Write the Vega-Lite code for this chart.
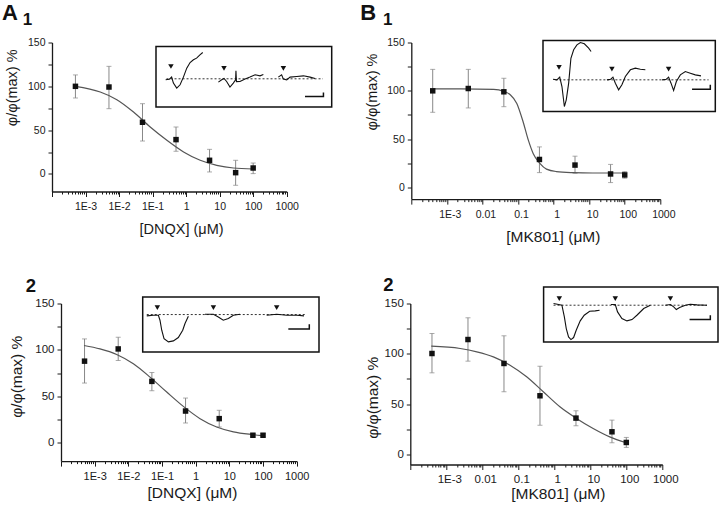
{
 "$schema": "https://vega.github.io/schema/vega-lite/v6.json",
 "padding": {"left": 2, "top": 1.5, "right": 0, "bottom": 0},
 "background": "white",
 "config": {
  "font": "Liberation Sans",
  "view": {"stroke": null},
  "axis": {"domainColor": "#1a1a1a", "domainWidth": 1.3, "tickColor": "#1a1a1a", "tickWidth": 1, "labelColor": "#1a1a1a", "titleColor": "#1a1a1a", "labelFont": "Liberation Sans", "titleFont": "Liberation Sans", "labelFontSize": 10.5, "titleFontSize": 14.5, "titleFontWeight": "normal", "grid": false},
  "text": {"font": "Liberation Sans", "fontWeight": "bold", "color": "#111", "align": "center", "baseline": "alphabetic"}
 },
 "datasets": {
  "pts": [
   {"p":"A1","c":0.0005,"m":100,"lo":86.7,"hi":113},
   {"p":"A1","c":0.005,"m":99.2,"lo":74.5,"hi":122.8},
   {"p":"A1","c":0.05,"m":59,"lo":37.6,"hi":80.2},
   {"p":"A1","c":0.5,"m":39.2,"lo":25.9,"hi":53.6},
   {"p":"A1","c":5,"m":15.6,"lo":2.3,"hi":28.1},
   {"p":"A1","c":30,"m":1.5,"lo":-12.9,"hi":15.6},
   {"p":"A1","c":100,"m":6.8,"lo":0.4,"hi":12.5},
   {"p":"B1","c":0.0004,"m":100,"lo":77.8,"hi":122.2},
   {"p":"B1","c":0.004,"m":102.4,"lo":82.3,"hi":122.2},
   {"p":"B1","c":0.04,"m":99,"lo":83.6,"hi":113},
   {"p":"B1","c":0.4,"m":29,"lo":15.4,"hi":42},
   {"p":"B1","c":4,"m":23.2,"lo":14.7,"hi":32.4},
   {"p":"B1","c":40,"m":14,"lo":5.1,"hi":23.9},
   {"p":"B1","c":100,"m":13,"lo":9.6,"hi":16.4},
   {"p":"A2","c":0.0005,"m":87.8,"lo":64.2,"hi":111.8},
   {"p":"A2","c":0.005,"m":101,"lo":88.5,"hi":113.6},
   {"p":"A2","c":0.05,"m":66,"lo":55.9,"hi":75.6},
   {"p":"A2","c":0.5,"m":34,"lo":21.1,"hi":48},
   {"p":"A2","c":5,"m":25.8,"lo":16.8,"hi":34.8},
   {"p":"A2","c":50,"m":7.9,"lo":6.1,"hi":9.7},
   {"p":"A2","c":100,"m":7.9,"lo":6.1,"hi":9.7},
   {"p":"B2","c":0.0004,"m":100.3,"lo":81.1,"hi":120.2},
   {"p":"B2","c":0.004,"m":114.2,"lo":92.7,"hi":135.8},
   {"p":"B2","c":0.04,"m":90.4,"lo":62.3,"hi":117.9},
   {"p":"B2","c":0.4,"m":58.3,"lo":29.1,"hi":87.7},
   {"p":"B2","c":4,"m":36.1,"lo":28.5,"hi":43.4},
   {"p":"B2","c":40,"m":22.5,"lo":11.6,"hi":34.1},
   {"p":"B2","c":100,"m":11.9,"lo":7,"hi":16.9}
  ],
  "fit": [
   {"p":"A1","c":0.000495,"f":100},{"p":"A1","c":0.00275,"f":93.5},{"p":"A1","c":0.0086,"f":84.8},{"p":"A1","c":0.027,"f":70.7},{"p":"A1","c":0.085,"f":53.6},{"p":"A1","c":0.267,"f":38.4},{"p":"A1","c":0.84,"f":25.1},{"p":"A1","c":2.63,"f":15.6},{"p":"A1","c":8.2,"f":9.9},{"p":"A1","c":25.8,"f":6.8},{"p":"A1","c":100,"f":5.7},
   {"p":"B1","c":0.0004,"f":102},{"p":"B1","c":0.00245,"f":102},{"p":"B1","c":0.0207,"f":101.5},{"p":"B1","c":0.0394,"f":99.5},{"p":"B1","c":0.0603,"f":96},{"p":"B1","c":0.0925,"f":87},{"p":"B1","c":0.1416,"f":67},{"p":"B1","c":0.195,"f":49},{"p":"B1","c":0.2685,"f":35},{"p":"B1","c":0.411,"f":25},{"p":"B1","c":0.631,"f":19},{"p":"B1","c":1.197,"f":16.5},{"p":"B1","c":3.47,"f":15.4},{"p":"B1","c":12.5,"f":15},{"p":"B1","c":100,"f":15},
   {"p":"A2","c":0.000482,"f":104.7},{"p":"A2","c":0.00144,"f":101},{"p":"A2","c":0.0045,"f":95},{"p":"A2","c":0.0141,"f":85},{"p":"A2","c":0.044,"f":70.6},{"p":"A2","c":0.138,"f":54.5},{"p":"A2","c":0.43,"f":39},{"p":"A2","c":1.35,"f":25.8},{"p":"A2","c":4.2,"f":16.8},{"p":"A2","c":13.2,"f":11.5},{"p":"A2","c":48.2,"f":8.6},{"p":"A2","c":95.5,"f":7.5},
   {"p":"B2","c":0.000382,"f":107.6},{"p":"B2","c":0.00243,"f":105.3},{"p":"B2","c":0.00703,"f":102},{"p":"B2","c":0.0203,"f":97},{"p":"B2","c":0.0589,"f":88.7},{"p":"B2","c":0.1706,"f":77.2},{"p":"B2","c":0.494,"f":62.3},{"p":"B2","c":1.43,"f":47.4},{"p":"B2","c":4.14,"f":35.8},{"p":"B2","c":12,"f":25.8},{"p":"B2","c":34.7,"f":17.5},{"p":"B2","c":100,"f":11.6}
  ],
  "base": [
   {"p":"A1","t0":6,"t1":95,"v":46.7},
   {"p":"B1","t0":7.2,"t1":96.1,"v":44.6},
   {"p":"A2","t0":2.3,"t1":92,"v":67.9},
   {"p":"B2","t0":5.7,"t1":93.7,"v":66.7}
  ],
  "tri": [
   {"p":"A1","t":8.5,"v":67},{"p":"A1","t":38.7,"v":64},{"p":"A1","t":72.5,"v":64},
   {"p":"B1","t":9.3,"v":62},{"p":"B1","t":40,"v":59.6},{"p":"B1","t":72.9,"v":59.6},
   {"p":"A2","t":8.3,"v":80.6},{"p":"A2","t":40.1,"v":80.6},{"p":"A2","t":76,"v":80.6},
   {"p":"B2","t":9,"v":78.8},{"p":"B2","t":41.1,"v":78.8},{"p":"B2","t":72.7,"v":78.8}
  ],
  "bar": [
   {"p":"A1","i":1,"t":84.8,"v":17.6},{"p":"A1","i":2,"t":95.3,"v":17.6},{"p":"A1","i":3,"t":95.3,"v":24.2},
   {"p":"B1","i":1,"t":86.5,"v":31.5},{"p":"B1","i":2,"t":97.1,"v":31.5},{"p":"B1","i":3,"t":97.1,"v":37.6},
   {"p":"A2","i":1,"t":82.6,"v":41.8},{"p":"A2","i":2,"t":94.5,"v":41.8},{"p":"A2","i":3,"t":94.5,"v":50.3},
   {"p":"B2","i":1,"t":83.7,"v":40.6},{"p":"B2","i":2,"t":95.6,"v":40.6},{"p":"B2","i":3,"t":95.6,"v":48.5}
  ],
  "trace": [
   {"p":"A1","k":1,"t":5.5,"v":45},{"p":"A1","k":1,"t":7.6,"v":46},{"p":"A1","k":1,"t":8.9,"v":49.5},{"p":"A1","k":1,"t":9.9,"v":39.6},{"p":"A1","k":1,"t":11.8,"v":31.3},{"p":"A1","k":1,"t":13.7,"v":36.8},{"p":"A1","k":1,"t":15.6,"v":49.5},{"p":"A1","k":1,"t":17.5,"v":64.3},{"p":"A1","k":1,"t":19.4,"v":73.6},{"p":"A1","k":1,"t":21.3,"v":78},{"p":"A1","k":1,"t":23.1,"v":80.8},{"p":"A1","k":1,"t":25,"v":86.3},{"p":"A1","k":1,"t":26.6,"v":90.1},
   {"p":"A1","k":2,"t":35.5,"v":41.2},{"p":"A1","k":2,"t":37.4,"v":45},{"p":"A1","k":2,"t":38.7,"v":47.3},{"p":"A1","k":2,"t":40.2,"v":42.3},{"p":"A1","k":2,"t":42.1,"v":33},{"p":"A1","k":2,"t":44,"v":39.6},{"p":"A1","k":2,"t":45.3,"v":45},{"p":"A1","k":2,"t":45.5,"v":60},{"p":"A1","k":2,"t":45.8,"v":42},{"p":"A1","k":2,"t":47.8,"v":42.3},{"p":"A1","k":2,"t":50.7,"v":46.2},{"p":"A1","k":2,"t":53.5,"v":49.5},{"p":"A1","k":2,"t":56.4,"v":53.3},{"p":"A1","k":2,"t":59.2,"v":51.6},{"p":"A1","k":2,"t":61.1,"v":53.8},
   {"p":"A1","k":3,"t":69.6,"v":49.5},{"p":"A1","k":3,"t":71.5,"v":53.3},{"p":"A1","k":3,"t":72.5,"v":46.2},{"p":"A1","k":3,"t":74.4,"v":45},{"p":"A1","k":3,"t":76.3,"v":49.5},{"p":"A1","k":3,"t":80.1,"v":50.5},{"p":"A1","k":3,"t":83.9,"v":51.6},{"p":"A1","k":3,"t":87.7,"v":49.5},{"p":"A1","k":3,"t":90.5,"v":47.3},
   {"p":"B1","k":1,"t":5.8,"v":45.5},{"p":"B1","k":1,"t":8.1,"v":44.6},{"p":"B1","k":1,"t":9.7,"v":48.4},{"p":"B1","k":1,"t":11,"v":35.2},{"p":"B1","k":1,"t":12.4,"v":7},{"p":"B1","k":1,"t":13.5,"v":16.4},{"p":"B1","k":1,"t":14.9,"v":39.9},{"p":"B1","k":1,"t":16.2,"v":75},{"p":"B1","k":1,"t":17.8,"v":86.9},{"p":"B1","k":1,"t":19.7,"v":93.9},{"p":"B1","k":1,"t":21.7,"v":97.2},{"p":"B1","k":1,"t":24,"v":95.3},{"p":"B1","k":1,"t":26.5,"v":89.2},{"p":"B1","k":1,"t":27.9,"v":84.5},
   {"p":"B1","k":2,"t":37.1,"v":44.6},{"p":"B1","k":2,"t":39.3,"v":45.5},{"p":"B1","k":2,"t":40.6,"v":48.4},{"p":"B1","k":2,"t":42,"v":39.9},{"p":"B1","k":2,"t":43.9,"v":30.5},{"p":"B1","k":2,"t":45.8,"v":37.6},{"p":"B1","k":2,"t":47.8,"v":49.3},{"p":"B1","k":2,"t":50.7,"v":58.7},{"p":"B1","k":2,"t":53.6,"v":61},{"p":"B1","k":2,"t":56.5,"v":59.6},{"p":"B1","k":2,"t":59.4,"v":58.7},
   {"p":"B1","k":3,"t":69.1,"v":44.6},{"p":"B1","k":3,"t":71.6,"v":45.5},{"p":"B1","k":3,"t":72.9,"v":48.4},{"p":"B1","k":3,"t":74.3,"v":39.9},{"p":"B1","k":3,"t":75.8,"v":29.6},{"p":"B1","k":3,"t":77.4,"v":42.3},{"p":"B1","k":3,"t":79.7,"v":51.6},{"p":"B1","k":3,"t":82.6,"v":56.3},{"p":"B1","k":3,"t":85.5,"v":54},{"p":"B1","k":3,"t":88.4,"v":51.6},{"p":"B1","k":3,"t":91.7,"v":50.2},
   {"p":"A2","k":1,"t":2.3,"v":65.5},{"p":"A2","k":1,"t":6,"v":66.7},{"p":"A2","k":1,"t":8.9,"v":66.7},{"p":"A2","k":1,"t":9.8,"v":57.6},{"p":"A2","k":1,"t":10.8,"v":39.4},{"p":"A2","k":1,"t":12.1,"v":24.2},{"p":"A2","k":1,"t":14.6,"v":18.2},{"p":"A2","k":1,"t":17.4,"v":20},{"p":"A2","k":1,"t":20.2,"v":26.1},{"p":"A2","k":1,"t":22.7,"v":39.4},{"p":"A2","k":1,"t":24,"v":51.5},{"p":"A2","k":1,"t":25.9,"v":64.8},
   {"p":"A2","k":2,"t":35.3,"v":68.5},{"p":"A2","k":2,"t":40.1,"v":68.5},{"p":"A2","k":2,"t":42.9,"v":63.6},{"p":"A2","k":2,"t":45.7,"v":57.6},{"p":"A2","k":2,"t":48.6,"v":60.6},{"p":"A2","k":2,"t":51.4,"v":66.7},{"p":"A2","k":2,"t":55.2,"v":68.5},
   {"p":"A2","k":3,"t":70.3,"v":66.7},{"p":"A2","k":3,"t":76,"v":68.5},{"p":"A2","k":3,"t":81.7,"v":66.7},{"p":"A2","k":3,"t":87.5,"v":66.7},{"p":"A2","k":3,"t":91.5,"v":65.5},
   {"p":"B2","k":1,"t":5.7,"v":69.7},{"p":"B2","k":1,"t":8.6,"v":67.9},{"p":"B2","k":1,"t":10.5,"v":66.7},{"p":"B2","k":1,"t":11.9,"v":45.5},{"p":"B2","k":1,"t":13,"v":24.2},{"p":"B2","k":1,"t":14.3,"v":9.1},{"p":"B2","k":1,"t":15.7,"v":4.2},{"p":"B2","k":1,"t":17.2,"v":7.9},{"p":"B2","k":1,"t":18.7,"v":21.2},{"p":"B2","k":1,"t":21,"v":38.2},{"p":"B2","k":1,"t":23.3,"v":48.5},{"p":"B2","k":1,"t":26.4,"v":55.8},{"p":"B2","k":1,"t":29.6,"v":56.4},{"p":"B2","k":1,"t":32.1,"v":57.6},
   {"p":"B2","k":2,"t":38.6,"v":67.9},{"p":"B2","k":2,"t":41.1,"v":67.9},{"p":"B2","k":2,"t":42.4,"v":54.5},{"p":"B2","k":2,"t":44.9,"v":42.4},{"p":"B2","k":2,"t":47.8,"v":38.2},{"p":"B2","k":2,"t":50.7,"v":40.6},{"p":"B2","k":2,"t":53.5,"v":48.5},{"p":"B2","k":2,"t":57.4,"v":60.6},{"p":"B2","k":2,"t":61.2,"v":66.7},
   {"p":"B2","k":3,"t":69.8,"v":66.7},{"p":"B2","k":3,"t":72.7,"v":67.9},{"p":"B2","k":3,"t":74.6,"v":63.6},{"p":"B2","k":3,"t":76.1,"v":58.8},{"p":"B2","k":3,"t":78,"v":62.4},{"p":"B2","k":3,"t":81.3,"v":66.7},{"p":"B2","k":3,"t":84.1,"v":68.5},{"p":"B2","k":3,"t":88,"v":67.3},{"p":"B2","k":3,"t":93.7,"v":66.7}
  ]
 },
 "vconcat": [
  {"hconcat": [
   {
    "width": 234.7, "height": 149,
    "layer": [
     {"encoding": {"x": {"field": "c", "type": "quantitative", "scale": {"type": "log", "domain": [0.0001, 1000], "nice": false},
        "axis": {"title": "[DNQX] (μM)", "values": [0.0001,0.0002,0.0003,0.0004,0.0005,0.0006,0.0007,0.0008,0.0009,0.001,0.002,0.003,0.004,0.005,0.006,0.007,0.008,0.009,0.01,0.02,0.03,0.04,0.05,0.06,0.07,0.08,0.09,0.1,0.2,0.3,0.4,0.5,0.6,0.7,0.8,0.9,1,2,3,4,5,6,7,8,9,10,20,30,40,50,60,70,80,90,100,200,300,400,500,600,700,800,900,1000],
          "labelExpr": "datum.value == 0.001 ? '1E-3' : datum.value == 0.01 ? '1E-2' : datum.value == 0.1 ? '1E-1' : datum.value == 1 ? '1' : datum.value == 10 ? '10' : datum.value == 100 ? '100' : datum.value == 1000 ? '1000' : ''",
          "tickSize": {"condition": {"test": "indexof([0.0001,0.001,0.01,0.1,1,10,100,1000], datum.value) >= 0", "value": 5}, "value": 2.5},
          "labelOverlap": false, "labelFlush": false, "labelPadding": 5, "titleX": 129, "titleY": 41.5, "titleBaseline": "alphabetic", "titleAlign": "center"}}},
      "layer": [
       {"data": {"name": "pts"}, "transform": [{"filter": "datum.p == 'A1'"}], "mark": {"type": "errorbar", "rule": {"color": "#888"}, "ticks": {"color": "#888", "size": 5}},
        "encoding": {"y": {"field": "lo", "type": "quantitative", "scale": {"domain": [-20, 150], "nice": false},
          "axis": {"title": "φ/φ(max) %", "values": [0,25,50,75,100,125,150], "labelExpr": "datum.value % 50 == 0 ? datum.label : ''", "tickSize": 4, "labelPadding": 3, "titleAngle": 270, "titleX": -39.5, "titleY": 44.8, "titleAlign": "center", "titleBaseline": "middle"}}, "y2": {"field": "hi"}}},
       {"data": {"name": "fit"}, "transform": [{"filter": "datum.p == 'A1'"}], "mark": {"type": "line", "interpolate": "monotone", "color": "#555", "strokeWidth": 1.2},
        "encoding": {"y": {"field": "f", "type": "quantitative", "scale": {"domain": [-20, 150], "nice": false},
          "axis": {"title": "φ/φ(max) %", "values": [0,25,50,75,100,125,150], "labelExpr": "datum.value % 50 == 0 ? datum.label : ''", "tickSize": 4, "labelPadding": 3, "titleAngle": 270, "titleX": -39.5, "titleY": 44.8, "titleAlign": "center", "titleBaseline": "middle"}}}},
       {"data": {"name": "pts"}, "transform": [{"filter": "datum.p == 'A1'"}], "mark": {"type": "point", "shape": "square", "filled": true, "size": 30, "color": "#111", "opacity": 1},
        "encoding": {"y": {"field": "m", "type": "quantitative", "scale": {"domain": [-20, 150], "nice": false},
          "axis": {"title": "φ/φ(max) %", "values": [0,25,50,75,100,125,150], "labelExpr": "datum.value % 50 == 0 ? datum.label : ''", "tickSize": 4, "labelPadding": 3, "titleAngle": 270, "titleX": -39.5, "titleY": 44.8, "titleAlign": "center", "titleBaseline": "middle"}}}}
      ]},
     {"layer": [
       {"data": {"name": "base"}, "transform": [{"filter": "datum.p == 'A1'"}], "mark": {"type": "rect", "fill": "white", "stroke": "#111", "strokeWidth": 1.5},
        "encoding": {"x": {"datum": 0, "type": "quantitative", "scale": {"domain": [0, 100], "range": [104, 279.7], "nice": false}, "axis": null}, "x2": {"datum": 100},
                     "y": {"datum": 0, "type": "quantitative", "scale": {"domain": [0, 100], "range": [64.6, 4], "nice": false}, "axis": null}, "y2": {"datum": 100}}},
       {"data": {"name": "base"}, "transform": [{"filter": "datum.p == 'A1'"}], "mark": {"type": "rule", "strokeDash": [2, 2], "color": "#333", "strokeWidth": 1},
        "encoding": {"x": {"field": "t0", "type": "quantitative", "scale": {"domain": [0, 100], "range": [104, 279.7], "nice": false}, "axis": null}, "x2": {"field": "t1"},
                     "y": {"field": "v", "type": "quantitative", "scale": {"domain": [0, 100], "range": [64.6, 4], "nice": false}, "axis": null}}},
       {"data": {"name": "trace"}, "transform": [{"filter": "datum.p == 'A1'"}], "mark": {"type": "line", "color": "#111", "strokeWidth": 1.1},
        "encoding": {"x": {"field": "t", "type": "quantitative", "scale": {"domain": [0, 100], "range": [104, 279.7], "nice": false}, "axis": null},
                     "y": {"field": "v", "type": "quantitative", "scale": {"domain": [0, 100], "range": [64.6, 4], "nice": false}, "axis": null}, "detail": {"field": "k"}}},
       {"data": {"name": "tri"}, "transform": [{"filter": "datum.p == 'A1'"}], "mark": {"type": "point", "shape": "triangle-down", "filled": true, "size": 30, "color": "#111", "opacity": 1},
        "encoding": {"x": {"field": "t", "type": "quantitative", "scale": {"domain": [0, 100], "range": [104, 279.7], "nice": false}, "axis": null},
                     "y": {"field": "v", "type": "quantitative", "scale": {"domain": [0, 100], "range": [64.6, 4], "nice": false}, "axis": null}}},
       {"data": {"name": "bar"}, "transform": [{"filter": "datum.p == 'A1'"}], "mark": {"type": "line", "color": "#111", "strokeWidth": 1.5},
        "encoding": {"x": {"field": "t", "type": "quantitative", "scale": {"domain": [0, 100], "range": [104, 279.7], "nice": false}, "axis": null},
                     "y": {"field": "v", "type": "quantitative", "scale": {"domain": [0, 100], "range": [64.6, 4], "nice": false}, "axis": null}, "order": {"field": "i"}}},
       {"data": {"values": [{}]}, "mark": {"type": "text", "text": "A", "fontSize": 22},
        "encoding": {"x": {"datum": -83.1, "type": "quantitative", "scale": {"domain": [0, 100], "range": [104, 279.7], "nice": false}, "axis": null},
                     "y": {"datum": 143.2, "type": "quantitative", "scale": {"domain": [0, 100], "range": [64.6, 4], "nice": false}, "axis": null}}},
       {"data": {"values": [{}]}, "mark": {"type": "text", "text": "1", "fontSize": 17},
        "encoding": {"x": {"datum": -73.1, "type": "quantitative", "scale": {"domain": [0, 100], "range": [104, 279.7], "nice": false}, "axis": null},
                     "y": {"datum": 135.8, "type": "quantitative", "scale": {"domain": [0, 100], "range": [64.6, 4], "nice": false}, "axis": null}}}
      ]}
    ],
    "resolve": {"scale": {"x": "independent", "y": "independent"}}
   },
   {
    "width": 249, "height": 156.6,
    "layer": [
     {"encoding": {"x": {"field": "c", "type": "quantitative", "scale": {"type": "log", "domain": [0.0001, 1000], "nice": false},
        "axis": {"title": "[MK801] (μM)", "values": [0.0001,0.0002,0.0003,0.0004,0.0005,0.0006,0.0007,0.0008,0.0009,0.001,0.002,0.003,0.004,0.005,0.006,0.007,0.008,0.009,0.01,0.02,0.03,0.04,0.05,0.06,0.07,0.08,0.09,0.1,0.2,0.3,0.4,0.5,0.6,0.7,0.8,0.9,1,2,3,4,5,6,7,8,9,10,20,30,40,50,60,70,80,90,100,200,300,400,500,600,700,800,900,1000],
          "labelExpr": "datum.value == 0.001 ? '1E-3' : datum.value == 0.01 ? '0.01' : datum.value == 0.1 ? '0.1' : datum.value == 1 ? '1' : datum.value == 10 ? '10' : datum.value == 100 ? '100' : datum.value == 1000 ? '1000' : ''",
          "tickSize": {"condition": {"test": "indexof([0.0001,0.001,0.01,0.1,1,10,100,1000], datum.value) >= 0", "value": 5}, "value": 2.5},
          "labelOverlap": false, "labelFlush": false, "labelPadding": 5, "labelOffset": 3, "titleX": 141.5, "titleY": 42.7, "titleBaseline": "alphabetic", "titleAlign": "center", "titleFontSize": 15.5}}},
      "layer": [
       {"data": {"name": "pts"}, "transform": [{"filter": "datum.p == 'B1'"}], "mark": {"type": "errorbar", "rule": {"color": "#888"}, "ticks": {"color": "#888", "size": 5}},
        "encoding": {"y": {"field": "lo", "type": "quantitative", "scale": {"domain": [-12, 150], "nice": false},
          "axis": {"title": "φ/φ(max) %", "values": [0,25,50,75,100,125,150], "labelExpr": "datum.value % 50 == 0 ? datum.label : ''", "tickSize": 4, "labelPadding": 3, "titleAngle": 270, "titleX": -39, "titleY": 49, "titleAlign": "center", "titleBaseline": "middle"}}, "y2": {"field": "hi"}}},
       {"data": {"name": "fit"}, "transform": [{"filter": "datum.p == 'B1'"}], "mark": {"type": "line", "interpolate": "monotone", "color": "#555", "strokeWidth": 1.2},
        "encoding": {"y": {"field": "f", "type": "quantitative", "scale": {"domain": [-12, 150], "nice": false},
          "axis": {"title": "φ/φ(max) %", "values": [0,25,50,75,100,125,150], "labelExpr": "datum.value % 50 == 0 ? datum.label : ''", "tickSize": 4, "labelPadding": 3, "titleAngle": 270, "titleX": -39, "titleY": 49, "titleAlign": "center", "titleBaseline": "middle"}}}},
       {"data": {"name": "pts"}, "transform": [{"filter": "datum.p == 'B1'"}], "mark": {"type": "point", "shape": "square", "filled": true, "size": 30, "color": "#111", "opacity": 1},
        "encoding": {"y": {"field": "m", "type": "quantitative", "scale": {"domain": [-12, 150], "nice": false},
          "axis": {"title": "φ/φ(max) %", "values": [0,25,50,75,100,125,150], "labelExpr": "datum.value % 50 == 0 ? datum.label : ''", "tickSize": 4, "labelPadding": 3, "titleAngle": 270, "titleX": -39, "titleY": 49, "titleAlign": "center", "titleBaseline": "middle"}}}}
      ]},
     {"layer": [
       {"data": {"name": "base"}, "transform": [{"filter": "datum.p == 'B1'"}], "mark": {"type": "rect", "fill": "white", "stroke": "#111", "strokeWidth": 1.5},
        "encoding": {"x": {"datum": 0, "type": "quantitative", "scale": {"domain": [0, 100], "range": [131.7, 304], "nice": false}, "axis": null}, "x2": {"datum": 100},
                     "y": {"datum": 0, "type": "quantitative", "scale": {"domain": [0, 100], "range": [69, -2], "nice": false}, "axis": null}, "y2": {"datum": 100}}},
       {"data": {"name": "base"}, "transform": [{"filter": "datum.p == 'B1'"}], "mark": {"type": "rule", "strokeDash": [2, 2], "color": "#333", "strokeWidth": 1},
        "encoding": {"x": {"field": "t0", "type": "quantitative", "scale": {"domain": [0, 100], "range": [131.7, 304], "nice": false}, "axis": null}, "x2": {"field": "t1"},
                     "y": {"field": "v", "type": "quantitative", "scale": {"domain": [0, 100], "range": [69, -2], "nice": false}, "axis": null}}},
       {"data": {"name": "trace"}, "transform": [{"filter": "datum.p == 'B1'"}], "mark": {"type": "line", "color": "#111", "strokeWidth": 1.1},
        "encoding": {"x": {"field": "t", "type": "quantitative", "scale": {"domain": [0, 100], "range": [131.7, 304], "nice": false}, "axis": null},
                     "y": {"field": "v", "type": "quantitative", "scale": {"domain": [0, 100], "range": [69, -2], "nice": false}, "axis": null}, "detail": {"field": "k"}}},
       {"data": {"name": "tri"}, "transform": [{"filter": "datum.p == 'B1'"}], "mark": {"type": "point", "shape": "triangle-down", "filled": true, "size": 30, "color": "#111", "opacity": 1},
        "encoding": {"x": {"field": "t", "type": "quantitative", "scale": {"domain": [0, 100], "range": [131.7, 304], "nice": false}, "axis": null},
                     "y": {"field": "v", "type": "quantitative", "scale": {"domain": [0, 100], "range": [69, -2], "nice": false}, "axis": null}}},
       {"data": {"name": "bar"}, "transform": [{"filter": "datum.p == 'B1'"}], "mark": {"type": "line", "color": "#111", "strokeWidth": 1.5},
        "encoding": {"x": {"field": "t", "type": "quantitative", "scale": {"domain": [0, 100], "range": [131.7, 304], "nice": false}, "axis": null},
                     "y": {"field": "v", "type": "quantitative", "scale": {"domain": [0, 100], "range": [69, -2], "nice": false}, "axis": null}, "order": {"field": "i"}}},
       {"data": {"values": [{}]}, "mark": {"type": "text", "text": "B", "fontSize": 22},
        "encoding": {"x": {"datum": -101.4, "type": "quantitative", "scale": {"domain": [0, 100], "range": [131.7, 304], "nice": false}, "axis": null},
                     "y": {"datum": 128.5, "type": "quantitative", "scale": {"domain": [0, 100], "range": [69, -2], "nice": false}, "axis": null}}},
       {"data": {"values": [{}]}, "mark": {"type": "text", "text": "1", "fontSize": 17},
        "encoding": {"x": {"datum": -90.1, "type": "quantitative", "scale": {"domain": [0, 100], "range": [131.7, 304], "nice": false}, "axis": null},
                     "y": {"datum": 122.1, "type": "quantitative", "scale": {"domain": [0, 100], "range": [69, -2], "nice": false}, "axis": null}}}
      ]}
    ],
    "resolve": {"scale": {"x": "independent", "y": "independent"}}
   }
  ], "spacing": 124.3, "bounds": "flush"},
  {"hconcat": [
   {
    "width": 244.7, "height": 157.6,
    "layer": [
     {"encoding": {"x": {"field": "c", "type": "quantitative", "scale": {"type": "log", "domain": [0.0001, 1000], "range": [9, 244.7], "nice": false},
        "axis": {"title": "[DNQX] (μM)", "values": [0.0001,0.0002,0.0003,0.0004,0.0005,0.0006,0.0007,0.0008,0.0009,0.001,0.002,0.003,0.004,0.005,0.006,0.007,0.008,0.009,0.01,0.02,0.03,0.04,0.05,0.06,0.07,0.08,0.09,0.1,0.2,0.3,0.4,0.5,0.6,0.7,0.8,0.9,1,2,3,4,5,6,7,8,9,10,20,30,40,50,60,70,80,90,100,200,300,400,500,600,700,800,900,1000],
          "labelExpr": "datum.value == 0.001 ? '1E-3' : datum.value == 0.01 ? '1E-2' : datum.value == 0.1 ? '1E-1' : datum.value == 1 ? '1' : datum.value == 10 ? '10' : datum.value == 100 ? '100' : datum.value == 1000 ? '1000' : ''",
          "tickSize": {"condition": {"test": "indexof([0.0001,0.001,0.01,0.1,1,10,100,1000], datum.value) >= 0", "value": 5}, "value": 2.5},
          "labelOverlap": false, "labelFlush": false, "labelPadding": 4, "titleX": 140, "titleY": 36, "titleBaseline": "alphabetic", "titleAlign": "center", "titleFontSize": 15.5, "labelFontSize": 11}}},
      "layer": [
       {"data": {"name": "pts"}, "transform": [{"filter": "datum.p == 'A2'"}], "mark": {"type": "errorbar", "rule": {"color": "#888"}, "ticks": {"color": "#888", "size": 5}},
        "encoding": {"y": {"field": "lo", "type": "quantitative", "scale": {"domain": [-20, 150], "nice": false},
          "axis": {"title": "φ/φ(max) %", "offset": -9, "values": [0,25,50,75,100,125,150], "labelExpr": "datum.value % 50 == 0 ? datum.label : ''", "tickSize": 4, "labelPadding": 3, "titleAngle": 270, "titleX": -45, "titleY": 72.7, "titleAlign": "center", "titleBaseline": "middle", "titleFontSize": 15.5, "labelFontSize": 11.5}}, "y2": {"field": "hi"}}},
       {"data": {"name": "fit"}, "transform": [{"filter": "datum.p == 'A2'"}], "mark": {"type": "line", "interpolate": "monotone", "color": "#555", "strokeWidth": 1.2},
        "encoding": {"y": {"field": "f", "type": "quantitative", "scale": {"domain": [-20, 150], "nice": false},
          "axis": {"title": "φ/φ(max) %", "offset": -9, "values": [0,25,50,75,100,125,150], "labelExpr": "datum.value % 50 == 0 ? datum.label : ''", "tickSize": 4, "labelPadding": 3, "titleAngle": 270, "titleX": -45, "titleY": 72.7, "titleAlign": "center", "titleBaseline": "middle", "titleFontSize": 15.5, "labelFontSize": 11.5}}}},
       {"data": {"name": "pts"}, "transform": [{"filter": "datum.p == 'A2'"}], "mark": {"type": "point", "shape": "square", "filled": true, "size": 30, "color": "#111", "opacity": 1},
        "encoding": {"y": {"field": "m", "type": "quantitative", "scale": {"domain": [-20, 150], "nice": false},
          "axis": {"title": "φ/φ(max) %", "offset": -9, "values": [0,25,50,75,100,125,150], "labelExpr": "datum.value % 50 == 0 ? datum.label : ''", "tickSize": 4, "labelPadding": 3, "titleAngle": 270, "titleX": -45, "titleY": 72.7, "titleAlign": "center", "titleBaseline": "middle", "titleFontSize": 15.5, "labelFontSize": 11.5}}}}
      ]},
     {"layer": [
       {"data": {"name": "base"}, "transform": [{"filter": "datum.p == 'A2'"}], "mark": {"type": "rect", "fill": "white", "stroke": "#111", "strokeWidth": 1.5},
        "encoding": {"x": {"datum": 0, "type": "quantitative", "scale": {"domain": [0, 100], "range": [90.7, 267], "nice": false}, "axis": null}, "x2": {"datum": 100},
                     "y": {"datum": 0, "type": "quantitative", "scale": {"domain": [0, 100], "range": [48.4, -6.6], "nice": false}, "axis": null}, "y2": {"datum": 100}}},
       {"data": {"name": "base"}, "transform": [{"filter": "datum.p == 'A2'"}], "mark": {"type": "rule", "strokeDash": [2, 2], "color": "#333", "strokeWidth": 1},
        "encoding": {"x": {"field": "t0", "type": "quantitative", "scale": {"domain": [0, 100], "range": [90.7, 267], "nice": false}, "axis": null}, "x2": {"field": "t1"},
                     "y": {"field": "v", "type": "quantitative", "scale": {"domain": [0, 100], "range": [48.4, -6.6], "nice": false}, "axis": null}}},
       {"data": {"name": "trace"}, "transform": [{"filter": "datum.p == 'A2'"}], "mark": {"type": "line", "color": "#111", "strokeWidth": 1.1},
        "encoding": {"x": {"field": "t", "type": "quantitative", "scale": {"domain": [0, 100], "range": [90.7, 267], "nice": false}, "axis": null},
                     "y": {"field": "v", "type": "quantitative", "scale": {"domain": [0, 100], "range": [48.4, -6.6], "nice": false}, "axis": null}, "detail": {"field": "k"}}},
       {"data": {"name": "tri"}, "transform": [{"filter": "datum.p == 'A2'"}], "mark": {"type": "point", "shape": "triangle-down", "filled": true, "size": 30, "color": "#111", "opacity": 1},
        "encoding": {"x": {"field": "t", "type": "quantitative", "scale": {"domain": [0, 100], "range": [90.7, 267], "nice": false}, "axis": null},
                     "y": {"field": "v", "type": "quantitative", "scale": {"domain": [0, 100], "range": [48.4, -6.6], "nice": false}, "axis": null}}},
       {"data": {"name": "bar"}, "transform": [{"filter": "datum.p == 'A2'"}], "mark": {"type": "line", "color": "#111", "strokeWidth": 1.5},
        "encoding": {"x": {"field": "t", "type": "quantitative", "scale": {"domain": [0, 100], "range": [90.7, 267], "nice": false}, "axis": null},
                     "y": {"field": "v", "type": "quantitative", "scale": {"domain": [0, 100], "range": [48.4, -6.6], "nice": false}, "axis": null}, "order": {"field": "i"}}},
       {"data": {"values": [{}]}, "mark": {"type": "text", "text": "2", "fontSize": 18.5},
        "encoding": {"x": {"datum": -63.4, "type": "quantitative", "scale": {"domain": [0, 100], "range": [90.7, 267], "nice": false}, "axis": null},
                     "y": {"datum": 108.5, "type": "quantitative", "scale": {"domain": [0, 100], "range": [48.4, -6.6], "nice": false}, "axis": null}}}
      ]}
    ],
    "resolve": {"scale": {"x": "independent", "y": "independent"}}
   },
   {
    "width": 252, "height": 161,
    "layer": [
     {"encoding": {"x": {"field": "c", "type": "quantitative", "scale": {"type": "log", "domain": [0.0001, 1000], "nice": false},
        "axis": {"title": "[MK801] (μM)", "values": [0.0001,0.0002,0.0003,0.0004,0.0005,0.0006,0.0007,0.0008,0.0009,0.001,0.002,0.003,0.004,0.005,0.006,0.007,0.008,0.009,0.01,0.02,0.03,0.04,0.05,0.06,0.07,0.08,0.09,0.1,0.2,0.3,0.4,0.5,0.6,0.7,0.8,0.9,1,2,3,4,5,6,7,8,9,10,20,30,40,50,60,70,80,90,100,200,300,400,500,600,700,800,900,1000],
          "labelExpr": "datum.value == 0.001 ? '1E-3' : datum.value == 0.01 ? '0.01' : datum.value == 0.1 ? '0.1' : datum.value == 1 ? '1' : datum.value == 10 ? '10' : datum.value == 100 ? '100' : datum.value == 1000 ? '1000' : ''",
          "tickSize": {"condition": {"test": "indexof([0.0001,0.001,0.01,0.1,1,10,100,1000], datum.value) >= 0", "value": 5}, "value": 2.5},
          "labelOverlap": false, "labelFlush": false, "labelPadding": 4, "labelOffset": 3, "titleX": 147.5, "titleY": 33.7, "titleBaseline": "alphabetic", "titleAlign": "center", "titleFontSize": 15.5, "labelFontSize": 11.5}}},
      "layer": [
       {"data": {"name": "pts"}, "transform": [{"filter": "datum.p == 'B2'"}], "mark": {"type": "errorbar", "rule": {"color": "#888"}, "ticks": {"color": "#888", "size": 5}},
        "encoding": {"y": {"field": "lo", "type": "quantitative", "scale": {"domain": [-10, 150], "nice": false},
          "axis": {"title": "φ/φ(max) %", "values": [0,25,50,75,100,125,150], "labelExpr": "datum.value % 50 == 0 ? datum.label : ''", "tickSize": 4, "labelPadding": 3, "titleAngle": 270, "titleX": -37.5, "titleY": 93.7, "titleAlign": "center", "titleBaseline": "middle", "titleFontSize": 15.5, "labelFontSize": 11.5}}, "y2": {"field": "hi"}}},
       {"data": {"name": "fit"}, "transform": [{"filter": "datum.p == 'B2'"}], "mark": {"type": "line", "interpolate": "monotone", "color": "#555", "strokeWidth": 1.2},
        "encoding": {"y": {"field": "f", "type": "quantitative", "scale": {"domain": [-10, 150], "nice": false},
          "axis": {"title": "φ/φ(max) %", "values": [0,25,50,75,100,125,150], "labelExpr": "datum.value % 50 == 0 ? datum.label : ''", "tickSize": 4, "labelPadding": 3, "titleAngle": 270, "titleX": -37.5, "titleY": 93.7, "titleAlign": "center", "titleBaseline": "middle", "titleFontSize": 15.5, "labelFontSize": 11.5}}}},
       {"data": {"name": "pts"}, "transform": [{"filter": "datum.p == 'B2'"}], "mark": {"type": "point", "shape": "square", "filled": true, "size": 30, "color": "#111", "opacity": 1},
        "encoding": {"y": {"field": "m", "type": "quantitative", "scale": {"domain": [-10, 150], "nice": false},
          "axis": {"title": "φ/φ(max) %", "values": [0,25,50,75,100,125,150], "labelExpr": "datum.value % 50 == 0 ? datum.label : ''", "tickSize": 4, "labelPadding": 3, "titleAngle": 270, "titleX": -37.5, "titleY": 93.7, "titleAlign": "center", "titleBaseline": "middle", "titleFontSize": 15.5, "labelFontSize": 11.5}}}}
      ]},
     {"layer": [
       {"data": {"name": "base"}, "transform": [{"filter": "datum.p == 'B2'"}], "mark": {"type": "rect", "fill": "white", "stroke": "#111", "strokeWidth": 1.5},
        "encoding": {"x": {"datum": 0, "type": "quantitative", "scale": {"domain": [0, 100], "range": [133.3, 307.7], "nice": false}, "axis": null}, "x2": {"datum": 100},
                     "y": {"datum": 0, "type": "quantitative", "scale": {"domain": [0, 100], "range": [38.4, -16.6], "nice": false}, "axis": null}, "y2": {"datum": 100}}},
       {"data": {"name": "base"}, "transform": [{"filter": "datum.p == 'B2'"}], "mark": {"type": "rule", "strokeDash": [2, 2], "color": "#333", "strokeWidth": 1},
        "encoding": {"x": {"field": "t0", "type": "quantitative", "scale": {"domain": [0, 100], "range": [133.3, 307.7], "nice": false}, "axis": null}, "x2": {"field": "t1"},
                     "y": {"field": "v", "type": "quantitative", "scale": {"domain": [0, 100], "range": [38.4, -16.6], "nice": false}, "axis": null}}},
       {"data": {"name": "trace"}, "transform": [{"filter": "datum.p == 'B2'"}], "mark": {"type": "line", "color": "#111", "strokeWidth": 1.1},
        "encoding": {"x": {"field": "t", "type": "quantitative", "scale": {"domain": [0, 100], "range": [133.3, 307.7], "nice": false}, "axis": null},
                     "y": {"field": "v", "type": "quantitative", "scale": {"domain": [0, 100], "range": [38.4, -16.6], "nice": false}, "axis": null}, "detail": {"field": "k"}}},
       {"data": {"name": "tri"}, "transform": [{"filter": "datum.p == 'B2'"}], "mark": {"type": "point", "shape": "triangle-down", "filled": true, "size": 30, "color": "#111", "opacity": 1},
        "encoding": {"x": {"field": "t", "type": "quantitative", "scale": {"domain": [0, 100], "range": [133.3, 307.7], "nice": false}, "axis": null},
                     "y": {"field": "v", "type": "quantitative", "scale": {"domain": [0, 100], "range": [38.4, -16.6], "nice": false}, "axis": null}}},
       {"data": {"name": "bar"}, "transform": [{"filter": "datum.p == 'B2'"}], "mark": {"type": "line", "color": "#111", "strokeWidth": 1.5},
        "encoding": {"x": {"field": "t", "type": "quantitative", "scale": {"domain": [0, 100], "range": [133.3, 307.7], "nice": false}, "axis": null},
                     "y": {"field": "v", "type": "quantitative", "scale": {"domain": [0, 100], "range": [38.4, -16.6], "nice": false}, "axis": null}, "order": {"field": "i"}}},
       {"data": {"values": [{}]}, "mark": {"type": "text", "text": "2", "fontSize": 18.5},
        "encoding": {"x": {"datum": -89.0, "type": "quantitative", "scale": {"domain": [0, 100], "range": [133.3, 307.7], "nice": false}, "axis": null},
                     "y": {"datum": 93.1, "type": "quantitative", "scale": {"domain": [0, 100], "range": [38.4, -16.6], "nice": false}, "axis": null}}}
      ]}
    ],
    "resolve": {"scale": {"x": "independent", "y": "independent"}}
   }
  ], "spacing": 113.3, "bounds": "flush"}
 ],
 "spacing": 30
}
